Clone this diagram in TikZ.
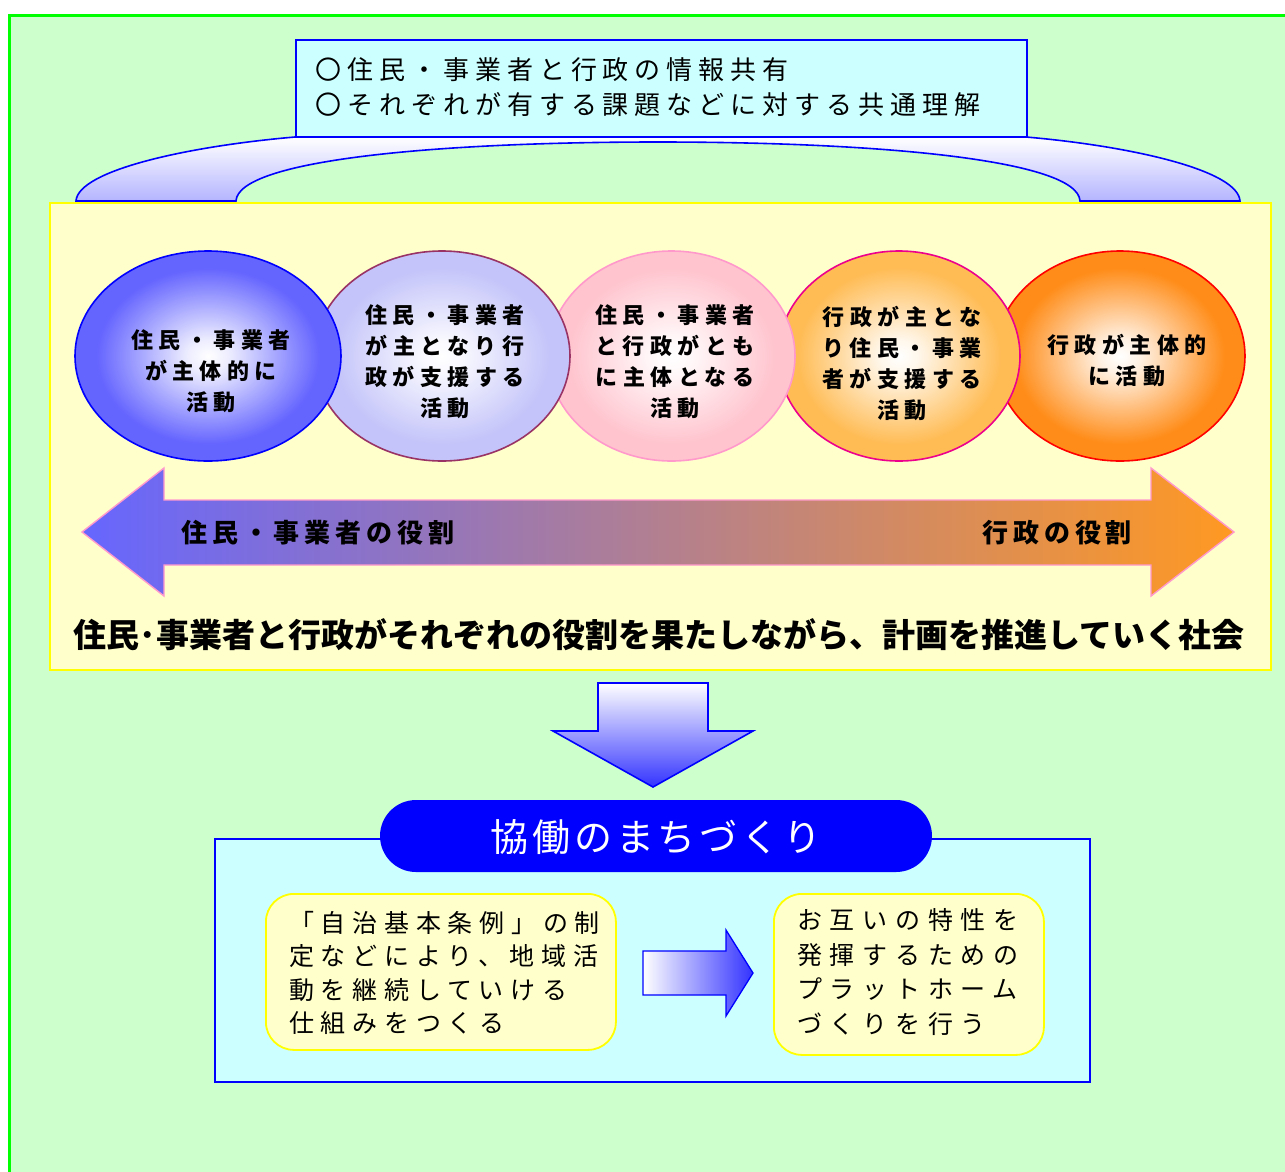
\documentclass[tikz,border=0pt]{standalone}
\usepackage{fontspec}
\setmainfont{Noto Sans CJK JP}
\newfontfamily\jpTop[LetterSpace=23]{Noto Sans CJK JP}
\newfontfamily\jpCirc[LetterSpace=25]{Noto Sans CJK JP}
\newfontfamily\jpRole[LetterSpace=19]{Noto Sans CJK JP}
\newfontfamily\jpHead{Noto Sans CJK JP}
\newfontfamily\jpPill[LetterSpace=10]{Noto Sans CJK JP}
\newfontfamily\jpBoxL[LetterSpace=27]{Noto Sans CJK JP}
\newfontfamily\jpBoxR[LetterSpace=31]{Noto Sans CJK JP}
\usetikzlibrary{shapes.geometric}
\definecolor{bggreen}{HTML}{CCFFCC}
\definecolor{bgline}{HTML}{00FF00}
\definecolor{lcyan}{HTML}{CCFFFF}
\definecolor{lyellow}{HTML}{FFFFCC}
\definecolor{pyellow}{HTML}{FFFF00}
\definecolor{pblue}{HTML}{0000FF}
\definecolor{bandblue}{HTML}{B4B4FF}
\definecolor{cA}{HTML}{6464FF}
\definecolor{cB}{HTML}{C4C4FA}
\definecolor{cC}{HTML}{FFC4CE}
\definecolor{cD}{HTML}{FFBC55}
\definecolor{cE}{HTML}{FF8C18}
\definecolor{bdB}{HTML}{993366}
\definecolor{bdC}{HTML}{FF99CC}
\definecolor{arL}{HTML}{6666FF}
\definecolor{arM}{HTML}{D088B0}
\definecolor{arR}{HTML}{FF9922}
\definecolor{arrblue}{HTML}{3333FF}
\pgfdeclareradialshading{ballA}{\pgfpoint{0bp}{0bp}}{color(0bp)=(white); color(4bp)=(white!88!cA); color(21bp)=(cA); color(50bp)=(cA)}
\pgfdeclareradialshading{ballB}{\pgfpoint{0bp}{0bp}}{color(0bp)=(white); color(4bp)=(white!88!cB); color(21bp)=(cB); color(50bp)=(cB)}
\pgfdeclareradialshading{ballC}{\pgfpoint{0bp}{0bp}}{color(0bp)=(white); color(4bp)=(white!88!cC); color(21bp)=(cC); color(50bp)=(cC)}
\pgfdeclareradialshading{ballD}{\pgfpoint{0bp}{0bp}}{color(0bp)=(white); color(4bp)=(white!88!cD); color(21bp)=(cD); color(50bp)=(cD)}
\pgfdeclareradialshading{ballE}{\pgfpoint{0bp}{0bp}}{color(0bp)=(white); color(4bp)=(white!88!cE); color(21bp)=(cE); color(50bp)=(cE)}
\tikzset{
  ball/.style={ellipse, inner sep=0pt, line width=1.6pt, shade},
  circtext/.style={align=center, inner sep=0pt, font=\jpCirc\bfseries\fontsize{22}{31}\selectfont},
  rolelabel/.style={anchor=west, inner sep=0pt, font=\jpRole\bfseries\fontsize{26}{30}\selectfont},
  softbox/.style={draw=pyellow, fill=lyellow, line width=1.8pt, rounded corners=28pt, inner sep=0pt}
}
\begin{document}
\begin{tikzpicture}[x=1pt,y=-1pt]
\path[use as bounding box] (0,0) rectangle (1285,1171);
\clip (0,0) rectangle (1285,1171);
\fill[white] (0,0) rectangle (1285,1171);
% outer green panel
\draw[bgline, fill=bggreen, line width=2.5pt] (9.5,15.5) rectangle (1300,1190);
% band (arc)
\path[draw=pblue, line width=1.6pt, top color=white, bottom color=bandblue]
  (76,201) .. controls (78,170) and (190,146) .. (295,137) -- (1026,137)
  .. controls (1130,146) and (1238,170) .. (1240,201) -- (1080,201)
  .. controls (1078,160) and (880,142) .. (658,142)
  .. controls (436,142) and (238,160) .. (236,201) -- cycle;
% top box
\node[draw=pblue, fill=lcyan, line width=1.5pt, minimum width=731pt, minimum height=97pt, inner sep=0pt, anchor=north west] (topbox) at (295,39) {};
\node[anchor=west, align=left, inner sep=0pt, font=\jpTop\fontsize{26}{35}\selectfont] (toptext) at (315,87.5)
  {〇住民・事業者と行政の情報共有\\〇それぞれが有する課題などに対する共通理解};
% yellow panel
\node[draw=pyellow, fill=lyellow, line width=2.2pt, minimum width=1221pt, minimum height=467pt, inner sep=0pt, anchor=north west] (panel) at (49,202) {};
% circles (right ones drawn first)
\node[ball, shading=ballE, draw=red, minimum width=250pt, minimum height=210pt] (cE) at (1120,356) {};
\node[ball, shading=ballD, draw=magenta, minimum width=242pt, minimum height=210pt] (cD) at (899,356) {};
\node[ball, shading=ballC, draw=bdC, minimum width=247pt, minimum height=210pt] (cC) at (671.5,356) {};
\node[ball, shading=ballB, draw=bdB, minimum width=256pt, minimum height=210pt] (cB) at (442,356) {};
\node[ball, shading=ballA, draw=pblue, minimum width=266pt, minimum height=210pt] (cA) at (208,356) {};
\node[circtext] (tA) at (211,371) {住民・事業者\\が主体的に\\活動};
\node[circtext] (tB) at (445,361.5) {住民・事業者\\が主となり行\\政が支援する\\活動};
\node[circtext] (tC) at (675,361.5) {住民・事業者\\と行政がとも\\に主体となる\\活動};
\node[circtext] (tD) at (902,363) {行政が主とな\\り住民・事業\\者が支援する\\活動};
\node[circtext] (tE) at (1127,360) {行政が主体的\\に活動};
% double arrow
\path[draw=bdC, line width=1.4pt, left color=arL, middle color=arM, right color=arR]
  (82,532) -- (164,468) -- (164,500) -- (1151,500) -- (1151,468) -- (1234,532)
  -- (1151,596) -- (1151,565) -- (164,565) -- (164,596) -- cycle;
\node[rolelabel] (roleA) at (181,533) {住民・事業者の役割};
\node[rolelabel] (roleB) at (982,533) {行政の役割};
% headline
\node[inner sep=0pt, font=\jpHead\bfseries\fontsize{33}{36}\selectfont] (head) at (659,635)
  {住民･事業者と行政がそれぞれの役割を果たしながら、計画を推進していく社会};
% down arrow
\path[draw=pblue, line width=1.6pt, top color=white, bottom color=arrblue]
  (598,683) -- (708,683) -- (708,731) -- (753,731) -- (653,787) -- (553,731) -- (598,731) -- cycle;
% bottom box
\node[draw=pblue, fill=lcyan, line width=1.6pt, minimum width=875pt, minimum height=243pt, inner sep=0pt, anchor=north west] (lower) at (214,838) {};
\node[fill=pblue, rounded corners=36pt, minimum width=552pt, minimum height=72pt, inner sep=0pt] (pill) at (656,836) {};
\node[text=white, inner sep=0pt, font=\jpPill\fontsize{38}{40}\selectfont] (pilltext) at (656,837) {協働のまちづくり};
% soft boxes
\node[softbox, minimum width=350pt, minimum height=156pt, anchor=north west] (boxL) at (265,893) {};
\node[softbox, minimum width=270pt, minimum height=161pt, anchor=north west] (boxR) at (773,893) {};
\node[anchor=west, align=left, inner sep=0pt, font=\jpBoxL\fontsize{25}{33.5}\selectfont] (txtL) at (289,973)
  {「自治基本条例」の制\\定などにより、地域活\\動を継続していける\\仕組みをつくる};
\node[anchor=west, align=left, inner sep=0pt, font=\jpBoxR\fontsize{25}{34.7}\selectfont] (txtR) at (797,972)
  {お互いの特性を\\発揮するための\\プラットホーム\\づくりを行う};
% right arrow
\path[draw=pblue, line width=1.3pt, left color=white, right color=arrblue]
  (643,951) -- (726,951) -- (726,930) -- (753,973) -- (726,1016) -- (726,995) -- (643,995) -- cycle;
\end{tikzpicture}
\end{document}
